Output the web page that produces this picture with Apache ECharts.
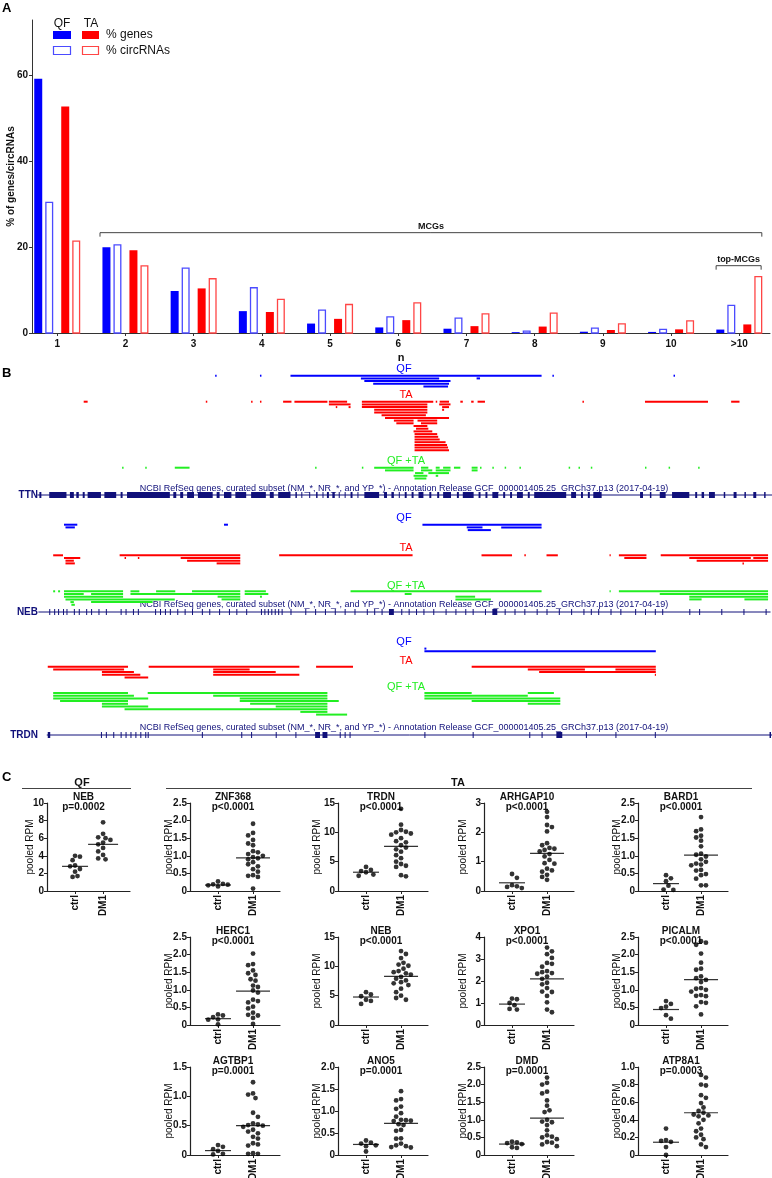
<!DOCTYPE html>
<html>
<head>
<meta charset="utf-8">
<script src="https://cdn.jsdelivr.net/npm/echarts@6.0.0/dist/echarts.min.js"></script>
<style>
  html, body { margin: 0; padding: 0; background: #fff; }
  #fig { width: 772px; height: 1178px; }
</style>
</head>
<body>
<div id="fig"></div>
<script>
// ---------- Panel A: genes / circRNAs per n ----------
var nLabels = ['1', '2', '3', '4', '5', '6', '7', '8', '9', '10', '>10'];
var qfGenes = [59.3, 20.0, 9.8, 5.1, 2.2, 1.3, 1.0, 0.2, 0.3, 0.25, 0.8];
var qfCirc  = [30.6, 20.7, 15.3, 10.7, 5.5, 3.9, 3.6, 0.6, 1.3, 1.0, 6.6];
var taGenes = [52.8, 19.3, 10.4, 4.9, 3.3, 3.0, 1.6, 1.5, 0.7, 0.85, 2.0];
var taCirc  = [21.6, 15.8, 12.8, 8.0, 6.8, 7.2, 4.6, 4.8, 2.3, 3.0, 13.3];
// brackets: [from, to, level]
var mcgsBracket = [1.627, 11.33, 23.4];
var topBracket = [10.66, 11.32, 15.7];
var bracketLabels = ['MCGs', 'top-MCGs'];

// ---------- Panel B: back-splice spans, [start, end, row] in locus units ----------
var ttnQF = [[437,440,0],[528,531,0],[590,1100,0],[1122,1125,0],[1368,1371,0],
  [733,892,1],[968,975,1],[740,915,2],[758,912,3],[860,910,4]];
var ttnTA = [[170,178,0],[418,421,0],[510,513,0],[528,531,0],[575,592,0],[598,665,0],[668,705,0],
  [735,880,0],[885,888,0],[893,912,0],[935,940,0],[957,962,0],[970,985,0],[1183,1186,0],[1310,1438,0],[1485,1502,0],
  [668,712,1],[735,868,1],[892,915,1],
  [682,685,2],[708,712,2],[735,868,2],[898,912,2],
  [760,868,3],[898,902,3],[760,868,4],[775,865,5],[782,912,6],
  [800,840,7],[848,888,7],[805,840,8],[855,888,8],[840,868,9],[845,870,10],[840,878,11],
  [842,888,12],[842,890,13],[842,893,14],[842,905,15],[842,908,16],[842,910,17],[842,912,18]];
var ttnMix = [[248,251,0],[295,298,0],[355,385,0],[640,643,0],[735,738,0],[760,840,0],[855,870,0],[885,893,0],
  [900,915,0],[922,935,0],[958,970,0],[975,978,0],[1000,1003,0],[1025,1028,0],[1055,1058,0],[1155,1158,0],
  [1175,1178,0],[1200,1203,0],[1310,1313,0],[1358,1361,0],[1418,1421,0],
  [782,840,1],[855,878,1],[885,915,1],[958,970,1],
  [843,860,2],[870,912,2],[840,868,3],[885,890,3],[842,866,4]];
var nebQF = [[130,157,0],[455,463,0],[858,1100,0],[133,152,1],[948,980,1],[1018,1100,1],[950,997,2]];
var nebTA = [[108,128,0],[243,488,0],[567,838,0],[978,1040,0],[1065,1068,0],[1110,1133,0],[1238,1240,0],[1257,1313,0],[1342,1560,0],
  [130,163,1],[253,256,1],[280,283,1],[367,488,1],[1268,1313,1],[1400,1525,1],[1530,1560,1],
  [133,150,2],[380,488,2],[1415,1560,2],[133,152,3],[440,488,3],[1508,1511,3]];
var nebMix = [[108,112,0],[118,122,0],[130,250,0],[265,283,0],[317,356,0],[390,488,0],[497,540,0],[712,1100,0],[1238,1240,0],[1257,1560,0],
  [130,170,1],[185,250,1],[265,488,1],[497,545,1],[822,836,1],[1340,1560,1],
  [130,250,2],[442,488,2],[528,532,2],[925,965,2],[1400,1560,2],
  [133,355,3],[450,488,3],[925,997,3],[1400,1425,3],[1512,1560,3],
  [143,150,4],[185,310,4],[145,152,5]];
var trdnQF = [[862,866,0],[862,1332,1]];
var trdnTA = [[97,260,0],[302,608,0],[642,717,0],[958,1332,0],
  [108,252,1],[433,507,1],[1072,1188,1],[1250,1332,1],
  [207,272,2],[433,560,2],[1095,1332,2],
  [207,285,3],[433,608,3],[1330,1332,3],[253,301,4]];
var trdnMix = [[108,260,0],[300,665,0],[862,958,0],[1072,1125,0],
  [108,272,1],[433,665,1],[862,1072,1],
  [108,301,2],[487,665,2],[862,1138,2],
  [122,260,3],[487,688,3],[958,1138,3],
  [207,260,4],[508,665,4],[1072,1138,4],
  [207,301,5],[560,665,5],[253,665,6],[610,665,7],[642,705,8]];
// gene models: span and exons [start, end]
var ttnSpan = [76, 1568];
var ttnExons = [[80,84],[100,135],[142,150],[155,160],[168,172],[178,205],[212,236],[245,249],[258,345],[352,358],
  [366,372],[380,394],[402,432],[440,446],[455,470],[478,500],[510,540],[548,556],[565,590],[600,603],[612,614],
  [628,630],[642,645],[655,657],[664,668],[675,680],[688,690],[700,702],[712,716],[726,728],[740,770],[780,786],
  [795,800],[810,812],[822,826],[836,840],[850,860],[872,876],[888,892],[900,916],[928,932],[940,962],[972,976],
  [986,990],[1000,1012],[1022,1026],[1036,1040],[1050,1062],[1072,1076],[1085,1150],[1160,1170],[1180,1184],
  [1194,1198],[1205,1222],[1300,1306],[1320,1323],[1340,1352],[1365,1400],[1412,1416],[1425,1430],[1440,1452],
  [1470,1473],[1490,1496],[1512,1515],[1530,1536],[1552,1555]];
var nebSpan = [78, 1565];
var nebExons = [[100,102],[110,112],[118,120],[128,130],[135,137],[150,152],[160,162],[175,177],[185,187],[200,202],
  [215,217],[245,247],[255,257],[270,272],[280,282],[315,317],[325,327],[335,337],[345,347],[360,362],[375,377],
  [390,392],[410,412],[425,427],[445,447],[465,467],[480,482],[500,502],[530,532],[537,539],[544,546],[551,553],
  [558,560],[565,567],[572,574],[590,592],[620,622],[640,642],[660,662],[680,682],[700,702],[720,722],[745,747],
  [760,762],[775,777],[790,800],[815,817],[830,832],[845,847],[860,862],[880,882],[905,907],[925,927],[945,947],
  [960,962],[985,987],[1000,1010],[1025,1027],[1045,1047],[1065,1067],[1090,1092],[1110,1112],[1135,1137],
  [1160,1162],[1185,1187],[1200,1202],[1215,1217],[1240,1242],[1260,1262],[1290,1292],[1310,1312],[1330,1332],
  [1345,1347],[1400,1402],[1420,1422],[1465,1467],[1510,1512],[1555,1557]];
var trdnSpan = [95, 1568];
var trdnExons = [[97,102],[205,207],[215,217],[230,232],[245,247],[255,257],[265,267],[275,277],[285,287],[295,297],
  [300,302],[410,412],[490,492],[510,512],[560,562],[600,602],[640,650],[655,665],[690,692],[700,702],[710,712],
  [862,864],[960,962],[1075,1077],[1100,1102],[1130,1142],[1190,1192],[1250,1252],[1330,1332],[1563,1566]];

// ---------- Panel C: pooled RPM, ctrl vs DM1 ----------
var cGenes = ['NEB', 'ZNF368', 'TRDN', 'ARHGAP10', 'BARD1', 'HERC1', 'NEB', 'XPO1', 'PICALM', 'AGTBP1', 'ANO5', 'DMD', 'ATP8A1'];
var cPvals = ['p=0.0002', 'p<0.0001', 'p<0.0001', 'p<0.0001', 'p<0.0001', 'p<0.0001', 'p<0.0001', 'p<0.0001', 'p<0.0001',
  'p=0.0001', 'p=0.0001', 'p=0.0001', 'p=0.0003'];
var cYMax = [10, 2.5, 15, 3, 2.5, 2.5, 15, 4, 2.5, 1.5, 2.0, 2.5, 1.0];
var cYStep = [2, 0.5, 5, 1, 0.5, 0.5, 5, 1, 0.5, 0.5, 0.5, 0.5, 0.2];
var cCtrl = [
  [4.0, 3.9, 3.5, 2.9, 2.8, 2.5, 2.2, 1.7, 1.6],
  [0.27, 0.2, 0.19, 0.18, 0.16, 0.13],
  [4.1, 3.6, 3.4, 3.2, 2.8, 2.6],
  [0.58, 0.45, 0.2, 0.16, 0.14, 0.1],
  [0.45, 0.36, 0.28, 0.15, 0.04, 0.03],
  [0.3, 0.27, 0.22, 0.16, 0.15, 0.02],
  [5.6, 5.2, 4.9, 4.3, 4.1, 3.6],
  [1.2, 1.17, 1.0, 0.9, 0.73, 0.7],
  [0.68, 0.6, 0.52, 0.48, 0.28, 0.18],
  [0.17, 0.14, 0.1, 0.07, 0.02, 0.01],
  [0.33, 0.28, 0.26, 0.22, 0.2, 0.08],
  [0.38, 0.36, 0.34, 0.31, 0.22, 0.2],
  [0.3, 0.17, 0.16, 0.15, 0.09, 0.0]
];
var cDm1 = [
  [7.8, 6.5, 6.1, 6.0, 5.8, 5.5, 5.3, 4.9, 4.5, 4.1, 3.7, 3.6],
  [1.91, 1.65, 1.58, 1.45, 1.35, 1.3, 1.13, 1.1, 1.05, 1.0, 0.96, 0.93, 0.9, 0.82, 0.76, 0.7, 0.62, 0.55, 0.45, 0.43, 0.4, 0.07],
  [14.0, 11.3, 10.4, 10.1, 10.0, 9.8, 9.6, 9.0, 8.5, 8.3, 7.8, 7.4, 7.1, 6.7, 6.1, 5.6, 5.0, 4.6, 4.3, 4.1, 2.7, 2.5],
  [2.7, 2.52, 2.25, 2.18, 2.03, 1.63, 1.56, 1.47, 1.44, 1.4, 1.35, 1.26, 1.18, 1.06, 0.95, 0.93, 0.76, 0.7, 0.66, 0.55, 0.48, 0.38],
  [2.1, 1.75, 1.7, 1.57, 1.52, 1.43, 1.27, 1.06, 1.03, 0.98, 0.9, 0.83, 0.78, 0.75, 0.73, 0.6, 0.58, 0.48, 0.45, 0.35, 0.16, 0.16],
  [2.03, 1.73, 1.7, 1.55, 1.47, 1.42, 1.3, 1.26, 1.12, 1.08, 0.98, 0.92, 0.72, 0.68, 0.64, 0.52, 0.47, 0.35, 0.29, 0.27, 0.2, 0.03],
  [12.6, 12.1, 11.4, 10.6, 10.3, 10.1, 9.6, 9.2, 9.0, 8.8, 8.6, 8.2, 7.9, 7.6, 7.3, 7.1, 6.8, 6.2, 5.6, 5.0, 4.6, 4.3],
  [3.52, 3.35, 3.22, 3.05, 2.82, 2.78, 2.65, 2.45, 2.4, 2.36, 2.33, 2.2, 2.1, 1.92, 1.85, 1.68, 1.52, 1.5, 1.32, 1.03, 0.7, 0.58],
  [2.38, 2.34, 2.28, 2.03, 1.77, 1.6, 1.57, 1.38, 1.33, 1.28, 1.22, 1.05, 1.03, 1.0, 0.95, 0.85, 0.83, 0.82, 0.65, 0.63, 0.53, 0.3],
  [1.24, 1.05, 1.03, 0.97, 0.72, 0.65, 0.54, 0.52, 0.51, 0.5, 0.48, 0.43, 0.4, 0.37, 0.31, 0.28, 0.2, 0.18, 0.16, 0.03, 0.02, 0.02],
  [1.45, 1.27, 1.24, 1.1, 1.05, 0.95, 0.87, 0.8, 0.79, 0.78, 0.77, 0.7, 0.68, 0.57, 0.55, 0.38, 0.37, 0.26, 0.22, 0.2, 0.18, 0.17],
  [2.2, 2.05, 2.0, 1.8, 1.75, 1.55, 1.4, 1.27, 1.22, 1.0, 0.95, 0.93, 0.85, 0.7, 0.56, 0.52, 0.5, 0.45, 0.37, 0.35, 0.3, 0.25],
  [0.91, 0.88, 0.8, 0.79, 0.68, 0.65, 0.59, 0.54, 0.5, 0.48, 0.46, 0.45, 0.44, 0.4, 0.36, 0.3, 0.27, 0.23, 0.2, 0.18, 0.12, 0.09]
];
var cLines = [[2.8, 5.3], [0.17, 0.94], [3.2, 7.6], [0.28, 1.28], [0.21, 1.02], [0.18, 0.96], [4.77, 8.3],
  [0.95, 2.1], [0.44, 1.29], [0.075, 0.5], [0.24, 0.72], [0.31, 1.05], [0.145, 0.48]];

(function () {
  var FONT = '"Liberation Sans", Arial, Helvetica, sans-serif';
  var AX = '#333';
  var BLUE = '#0000ff', RED = '#ff0000', GREEN = '#22ee22', NAVY = '#10107a';
  var LBLUE = '#4b4bff', LRED = '#ff4545';

  var grid = [], xAxis = [], yAxis = [], series = [], graphic = [];

  function addGrid(g, xa, ya) {
    g.containLabel = false;
    g.outerBoundsMode = 'none';
    grid.push(g);
    var gi = grid.length - 1;
    xa.gridIndex = gi; ya.gridIndex = gi;
    xAxis.push(xa); yAxis.push(ya);
    return gi;
  }
  function hidden(min, max, inverse) {
    return { type: 'value', min: min, max: max, inverse: !!inverse, show: false, splitLine: { show: false } };
  }
  function text(x, y, str, font, color, align, valign) {
    graphic.push({
      type: 'text', x: x, y: y, silent: true,
      style: { text: str, font: font, fill: color, align: align || 'center', verticalAlign: valign || 'middle',
        textAlign: align || 'center', textVerticalAlign: valign || 'middle' }
    });
  }
  function line(x1, y1, x2, y2, color, w) {
    graphic.push({ type: 'line', silent: true, shape: { x1: x1, y1: y1, x2: x2, y2: y2 },
      style: { stroke: color, lineWidth: w || 1 } });
  }

  // panel letters
  text(2, 8, 'A', 'bold 13px ' + FONT, '#000', 'left');
  text(2, 373, 'B', 'bold 13px ' + FONT, '#000', 'left');
  text(2, 777, 'C', 'bold 13px ' + FONT, '#000', 'left');

  // ---------------- Panel A ----------------
  var ticksN = nLabels.map(function (l, i) { return i + 1; });
  var gA = addGrid({ left: 32, top: 20, width: 738, height: 313 }, {
    type: 'value', min: 0.63, max: 11.45,
    axisLine: { show: true, lineStyle: { color: AX, width: 1 } },
    axisTick: { show: true, customValues: ticksN, length: 3, lineStyle: { color: AX } },
    axisLabel: { customValues: ticksN, margin: 6, color: '#111', fontFamily: FONT, fontWeight: 'bold', fontSize: 10,
      formatter: function (v) { return nLabels[Math.round(v) - 1]; } },
    splitLine: { show: false },
    name: 'n', nameLocation: 'middle', nameGap: 19, nameMoveOverlap: false,
    nameTextStyle: { color: '#111', fontFamily: FONT, fontWeight: 'bold', fontSize: 11 }
  }, {
    type: 'value', min: 0, max: 73,
    axisLine: { show: true, lineStyle: { color: AX, width: 1 } },
    axisTick: { show: true, customValues: [0, 20, 40, 60], length: 3, lineStyle: { color: AX } },
    axisLabel: { customValues: [0, 20, 40, 60], margin: 4, color: '#111', fontFamily: FONT, fontWeight: 'bold', fontSize: 10 },
    splitLine: { show: false },
    name: '% of genes/circRNAs', nameLocation: 'middle', nameGap: 16, nameRotate: 90, nameMoveOverlap: false,
    nameTextStyle: { color: '#111', fontFamily: FONT, fontWeight: 'bold', fontSize: 10 }
  });

  function barSeries(values, offset, filled, color) {
    series.push({
      type: 'custom', xAxisIndex: gA, yAxisIndex: gA, silent: true,
      data: values.map(function (v, i) { return [i + 1, v]; }),
      renderItem: function (params, api) {
        var x = api.value(0), v = api.value(1);
        var base = api.coord([x, 0]), top = api.coord([x, v]);
        var w = 8, sw = filled ? 0 : 1.3;
        return {
          type: 'rect',
          shape: { x: base[0] + offset - w / 2 + sw / 2, y: top[1] + sw / 2, width: w - sw, height: Math.max(base[1] - top[1] - sw / 2, 0.5) },
          style: filled ? { fill: color } : { fill: '#fff', stroke: color, lineWidth: sw }
        };
      }
    });
  }
  barSeries(qfGenes, -19, true, BLUE);
  barSeries(qfCirc, -8, false, LBLUE);
  barSeries(taGenes, 8, true, RED);
  barSeries(taCirc, 19, false, LRED);

  series.push({
    type: 'custom', xAxisIndex: gA, yAxisIndex: gA, silent: true,
    data: [mcgsBracket, topBracket],
    encode: { x: [0, 1], y: 2 },
    renderItem: function (params, api) {
      var p1 = api.coord([api.value(0), api.value(2)]), p2 = api.coord([api.value(1), api.value(2)]);
      return {
        type: 'group', children: [
          { type: 'polyline', shape: { points: [[p1[0], p1[1] + 4], [p1[0], p1[1]], [p2[0], p2[1]], [p2[0], p2[1] + 4]] },
            style: { stroke: '#444', lineWidth: 1, fill: null } },
          { type: 'text', x: (p1[0] + p2[0]) / 2, y: p1[1] - 2,
            style: { text: bracketLabels[params.dataIndex], font: 'bold 9px ' + FONT, fill: '#111',
              align: 'center', verticalAlign: 'bottom', textAlign: 'center', textVerticalAlign: 'bottom' } }
        ]
      };
    }
  });

  // legend
  text(62, 24, 'QF', '12px ' + FONT, '#111');
  text(91, 24, 'TA', '12px ' + FONT, '#111');
  graphic.push({ type: 'rect', silent: true, shape: { x: 53, y: 31, width: 18, height: 8 }, style: { fill: BLUE } });
  graphic.push({ type: 'rect', silent: true, shape: { x: 82, y: 31, width: 17, height: 8 }, style: { fill: RED } });
  graphic.push({ type: 'rect', silent: true, shape: { x: 53.5, y: 46.5, width: 17, height: 8 }, style: { fill: '#fff', stroke: LBLUE, lineWidth: 1.2 } });
  graphic.push({ type: 'rect', silent: true, shape: { x: 82.5, y: 46.5, width: 16, height: 8 }, style: { fill: '#fff', stroke: LRED, lineWidth: 1.2 } });
  text(106, 35, '% genes', '12px ' + FONT, '#111', 'left');
  text(106, 51, '% circRNAs', '12px ' + FONT, '#111', 'left');

  // ---------------- Panel B ----------------
  var ROW = 2.7;
  function addTrack(yFirst, nRows, data, color) {
    var gi = addGrid({ left: 0, top: yFirst - ROW / 2, width: 772, height: nRows * ROW },
      hidden(0, 1568), hidden(-0.5, nRows - 0.5, true));
    series.push({
      type: 'custom', xAxisIndex: gi, yAxisIndex: gi, silent: true, data: data,
      encode: { x: [0, 1], y: 2 },
      renderItem: function (params, api) {
        var a = api.coord([api.value(0), api.value(2)]), b = api.coord([api.value(1), api.value(2)]);
        return { type: 'rect', shape: { x: a[0], y: a[1] - 1, width: Math.max(b[0] - a[0], 1.2), height: 2 },
          style: { fill: color } };
      }
    });
  }
  function addGene(y, span, exons, name) {
    var gi = addGrid({ left: 0, top: y - 4, width: 772, height: 8 }, hidden(0, 1568), hidden(-1, 1));
    series.push({
      type: 'custom', xAxisIndex: gi, yAxisIndex: gi, silent: true, data: [[span[0], span[1], 0]],
      encode: { x: [0, 1], y: 2 },
      renderItem: function (params, api) {
        var a = api.coord([api.value(0), 0]), b = api.coord([api.value(1), 0]);
        return { type: 'line', shape: { x1: a[0], y1: a[1], x2: b[0], y2: b[1] }, style: { stroke: NAVY, lineWidth: 1 } };
      }
    });
    series.push({
      type: 'custom', xAxisIndex: gi, yAxisIndex: gi, silent: true,
      data: exons.map(function (e) { return [e[0], e[1], 0]; }),
      encode: { x: [0, 1], y: 2 },
      renderItem: function (params, api) {
        var a = api.coord([api.value(0), 0]), b = api.coord([api.value(1), 0]);
        return { type: 'rect', shape: { x: a[0], y: a[1] - 3, width: Math.max(b[0] - a[0], 1), height: 6 },
          style: { fill: NAVY } };
      }
    });
    text(38, y, name, 'bold 10px ' + FONT, NAVY, 'right');
  }
  var TITLE = 'NCBI RefSeq genes, curated subset (NM_*, NR_*, and YP_*) - Annotation Release GCF_000001405.25_GRCh37.p13 (2017-04-19)';
  function blockLabels(yQF, yTA, yMix, yTitle) {
    text(404, yQF, 'QF', '11px ' + FONT, BLUE);
    text(406, yTA, 'TA', '11px ' + FONT, RED);
    text(406, yMix, 'QF +TA', '11px ' + FONT, GREEN);
    text(404, yTitle, TITLE, '9px ' + FONT, NAVY);
  }
  // TTN
  addTrack(375.7, 5, ttnQF, BLUE);
  addTrack(401.7, 19, ttnTA, RED);
  addTrack(467.7, 5, ttnMix, GREEN);
  addGene(495, ttnSpan, ttnExons, 'TTN');
  blockLabels(369, 395, 460.7, 488.3);
  // NEB
  addTrack(524.7, 3, nebQF, BLUE);
  addTrack(555.3, 4, nebTA, RED);
  addTrack(591.3, 6, nebMix, GREEN);
  addGene(612, nebSpan, nebExons, 'NEB');
  blockLabels(517.7, 548.3, 585.7, 604.8);
  // TRDN
  addTrack(648.6, 2, trdnQF, BLUE);
  addTrack(666.7, 5, trdnTA, RED);
  addTrack(693, 9, trdnMix, GREEN);
  addGene(735, trdnSpan, trdnExons, 'TRDN');
  blockLabels(642.3, 660.7, 686.7, 727.3);

  // ---------------- Panel C ----------------
  text(82, 783, 'QF', 'bold 11px ' + FONT, '#111');
  line(22, 788.5, 131, 788.5, '#444', 1);
  text(458, 783, 'TA', 'bold 11px ' + FONT, '#111');
  line(166, 788.5, 752, 788.5, '#444', 1);

  // beeswarm offsets so that dots with close values do not overlap
  function swarm(vals, cat, pxPerY, pxPerX) {
    var d = 4.9, placed = [], out = [];
    vals.slice().sort(function (a, b) { return b - a; }).forEach(function (v, n) {
      var y = v * pxPerY, best = 0;
      for (var k = 0; k < 30; k++) {
        var s = k * 2.45;
        var cands = k === 0 ? [0] : (n % 2 ? [s, -s] : [-s, s]);
        var hit = null;
        for (var c = 0; c < cands.length && hit === null; c++) {
          var x = cands[c];
          var free = placed.every(function (p) { var dx = p[0] - x, dy = p[1] - y; return dx * dx + dy * dy >= d * d; });
          if (free) hit = x;
        }
        if (hit !== null) { best = hit; break; }
      }
      placed.push([best, y]);
      out.push([cat + best / pxPerX, v]);
    });
    return out;
  }

  var cCols = [47, 190, 338, 484, 638];
  var cRows = [803, 937, 1067];
  var cPos = [[0, 0], [1, 0], [2, 0], [3, 0], [4, 0], [1, 1], [2, 1], [3, 1], [4, 1], [1, 2], [2, 2], [3, 2], [4, 2]];
  var bold10 = { color: '#111', fontFamily: FONT, fontWeight: 'bold', fontSize: 10 };

  cGenes.forEach(function (gene, i) {
    var qf = i === 0;
    var left = cCols[cPos[i][0]], top = cRows[cPos[i][1]];
    var w = qf ? 83 : 90, h = 88;
    var xmin = qf ? 0 : 0.2, xmax = qf ? 2.96 : 2.77;
    var ppx = w / (xmax - xmin), ppy = h / cYMax[i];
    var step = cYStep[i];
    var gi = addGrid({ left: left, top: top, width: w, height: h }, {
      type: 'value', min: xmin, max: xmax,
      axisLine: { show: true, lineStyle: { color: '#222', width: 1.2 } },
      axisTick: { show: true, customValues: [1, 2], length: 3, lineStyle: { color: '#222' } },
      axisLabel: Object.assign({ customValues: [1, 2], rotate: 90, margin: 4,
        formatter: function (v) { return v < 1.5 ? 'ctrl' : 'DM1'; } }, bold10),
      splitLine: { show: false }
    }, {
      type: 'value', min: 0, max: cYMax[i], interval: step,
      axisLine: { show: true, lineStyle: { color: '#222', width: 1.2 } },
      axisTick: { show: true, length: 3, lineStyle: { color: '#222' } },
      axisLabel: Object.assign({ margin: 3,
        formatter: function (v) { return v === 0 ? '0' : (step < 1 ? v.toFixed(1) : String(Math.round(v))); } }, bold10),
      splitLine: { show: false },
      name: 'pooled RPM', nameLocation: 'middle', nameGap: qf ? 12 : 16, nameRotate: 90, nameMoveOverlap: false,
      nameTextStyle: { color: '#111', fontFamily: FONT, fontSize: 10 }
    });
    series.push({
      type: 'scatter', xAxisIndex: gi, yAxisIndex: gi, silent: true, symbol: 'circle', symbolSize: 4.8,
      itemStyle: { color: '#000' },
      data: swarm(cCtrl[i], 1, ppy, ppx).concat(swarm(cDm1[i], 2, ppy, ppx))
    });
    series.push({
      type: 'custom', xAxisIndex: gi, yAxisIndex: gi, silent: true,
      data: [[1, cLines[i][0]], [2, cLines[i][1]]],
      renderItem: function (params, api) {
        var p = api.coord([api.value(0), api.value(1)]);
        var half = params.dataIndex === 0 ? 13 : (qf ? 15 : 17);
        return { type: 'line', shape: { x1: p[0] - half, y1: p[1], x2: p[0] + half, y2: p[1] },
          style: { stroke: '#333', lineWidth: 1.2 } };
      }
    });
    var cx = left + w * 0.5 - (qf ? 5 : 2);
    text(cx, top - 6, gene, 'bold 10px ' + FONT, '#111');
    text(cx, top + 4.5, cPvals[i], 'bold 10px ' + FONT, '#111');
  });

  var chart = echarts.init(document.getElementById('fig'), null, { renderer: 'canvas' });
  chart.setOption({
    animation: false,
    backgroundColor: '#fff',
    textStyle: { fontFamily: FONT },
    grid: grid, xAxis: xAxis, yAxis: yAxis, series: series, graphic: graphic
  });
  window.addEventListener('resize', function () { chart.resize(); });
})();
</script>
</body>
</html>
